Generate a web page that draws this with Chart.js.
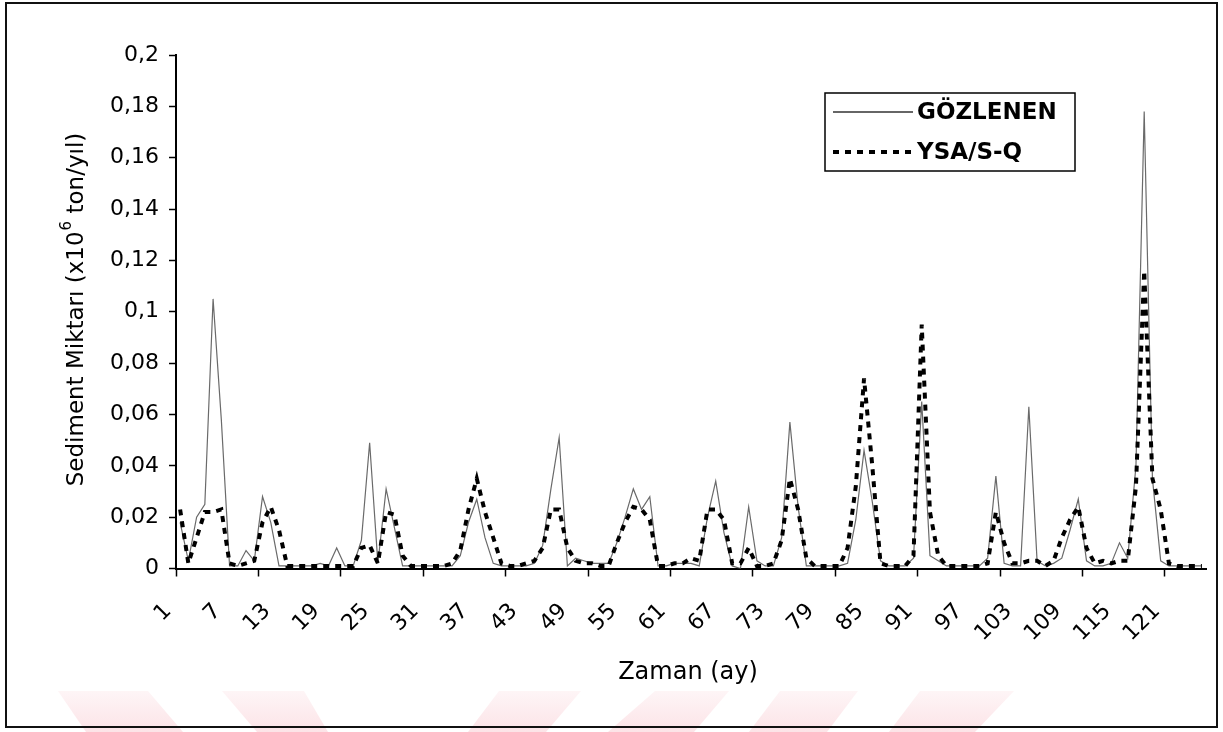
<!DOCTYPE html>
<html>
<head>
<meta charset="utf-8">
<script src="https://cdn.jsdelivr.net/npm/chart.js@4.4.0/dist/chart.umd.min.js"></script>
<style>
  html, body { margin: 0; padding: 0; background: #fff; }
  #wrap { width: 1223px; height: 732px; position: relative; }
</style>
</head>
<body>
<div id="wrap"><canvas id="sedimentChart"></canvas></div>
<script>
// Months 1..125
const months = Array.from({ length: 125 }, (_, i) => String(i + 1));

// Observed sediment (x10^6 ton/yil)
const observed = [
  0.018, 0.003, 0.020, 0.025, 0.105, 0.058, 0.001, 0.001, 0.007, 0.003,
  0.028, 0.018, 0.001, 0.001, 0.001, 0.001, 0.001, 0.002, 0.001, 0.008,
  0.001, 0.001, 0.011, 0.049, 0.002, 0.031, 0.016, 0.001, 0.001, 0.001,
  0.001, 0.001, 0.001, 0.001, 0.005, 0.018, 0.027, 0.012, 0.002, 0.001,
  0.001, 0.001, 0.001, 0.002, 0.009, 0.031, 0.051, 0.001, 0.004, 0.003,
  0.002, 0.002, 0.002, 0.010, 0.020, 0.031, 0.023, 0.028, 0.001, 0.001,
  0.002, 0.002, 0.002, 0.001, 0.020, 0.034, 0.014, 0.001, 0.000, 0.024,
  0.003, 0.001, 0.001, 0.012, 0.057, 0.024, 0.001, 0.001, 0.001, 0.001,
  0.001, 0.002, 0.019, 0.046, 0.026, 0.003, 0.001, 0.001, 0.001, 0.004,
  0.065, 0.005, 0.003, 0.001, 0.001, 0.001, 0.001, 0.001, 0.004, 0.036,
  0.002, 0.001, 0.001, 0.063, 0.003, 0.001, 0.002, 0.004, 0.015, 0.027,
  0.003, 0.001, 0.001, 0.002, 0.010, 0.004, 0.040, 0.178, 0.035, 0.003,
  0.001, 0.001, 0.001, 0.001, 0.001
];

// YSA model output (S-Q input)
const predicted = [
  0.023, 0.002, 0.012, 0.022, 0.022, 0.023, 0.002, 0.001, 0.002, 0.003,
  0.018, 0.024, 0.015, 0.001, 0.001, 0.001, 0.001, 0.001, 0.001, 0.001,
  0.001, 0.001, 0.008, 0.009, 0.002, 0.022, 0.021, 0.005, 0.001, 0.001,
  0.001, 0.001, 0.001, 0.002, 0.007, 0.023, 0.035, 0.022, 0.012, 0.002,
  0.001, 0.001, 0.002, 0.003, 0.008, 0.023, 0.023, 0.008, 0.003, 0.002,
  0.002, 0.001, 0.001, 0.010, 0.018, 0.024, 0.023, 0.019, 0.001, 0.001,
  0.002, 0.002, 0.004, 0.003, 0.023, 0.023, 0.019, 0.002, 0.002, 0.008,
  0.001, 0.001, 0.002, 0.011, 0.035, 0.023, 0.004, 0.001, 0.001, 0.001,
  0.001, 0.008, 0.032, 0.074, 0.040, 0.002, 0.001, 0.001, 0.001, 0.005,
  0.095, 0.022, 0.005, 0.001, 0.001, 0.001, 0.001, 0.001, 0.002, 0.022,
  0.010, 0.002, 0.002, 0.003, 0.003, 0.001, 0.003, 0.012, 0.019, 0.024,
  0.008, 0.002, 0.003, 0.002, 0.003, 0.003, 0.032, 0.116, 0.035, 0.023,
  0.002, 0.001, 0.001, 0.001, 0.001
];

const LABEL_STEP = 6;   // a month label every 6 months
const MARK_STEP = 10;   // a tick mark every 10 months
const FONT = '"DejaVu Sans", "Liberation Sans", sans-serif';

function commaNum(v) {
  const n = Math.round(v * 100) / 100;
  return String(n).replace('.', ',');
}

// frame, watermark bands, axis titles and the boxed legend
const decor = {
  id: 'decor',
  beforeDraw(chart) {
    const ctx = chart.ctx;
    ctx.save();
    ctx.fillStyle = '#fff';
    ctx.fillRect(0, 0, chart.width, chart.height);
    const bands = [
      [58, 148, 86, 183], [222, 304, 257, 328],
      [499, 581, 468, 546], [655, 729, 608, 694],
      [780, 858, 749, 827], [920, 1014, 889, 975]
    ];
    const g = ctx.createLinearGradient(0, 690, 0, 732);
    g.addColorStop(0, 'rgba(235,70,95,0.05)');
    g.addColorStop(1, 'rgba(235,70,95,0.15)');
    ctx.fillStyle = g;
    bands.forEach(b => {
      ctx.beginPath();
      ctx.moveTo(b[0], 691);
      ctx.lineTo(b[1], 691);
      ctx.lineTo(b[3], 732);
      ctx.lineTo(b[2], 732);
      ctx.closePath();
      ctx.fill();
    });
    ctx.restore();
  },
  afterDraw(chart) {
    const ctx = chart.ctx;
    ctx.save();

    // outer frame
    ctx.strokeStyle = '#111';
    ctx.lineWidth = 2;
    ctx.strokeRect(6, 3, 1211, 724);

    // x title
    ctx.fillStyle = '#000';
    ctx.font = '24px ' + FONT;
    ctx.textAlign = 'center';
    ctx.textBaseline = 'middle';
    ctx.fillText('Zaman (ay)', 688, 673);

    // y title with superscript exponent
    const p1 = 'Sediment Miktarı (x10', p2 = '6', p3 = ' ton/yıl)';
    ctx.translate(77, 310);
    ctx.rotate(-Math.PI / 2);
    ctx.textAlign = 'left';
    ctx.font = '23px ' + FONT;
    const w1 = ctx.measureText(p1).width, w3 = ctx.measureText(p3).width;
    ctx.font = '15px ' + FONT;
    const w2 = ctx.measureText(p2).width;
    let x = -(w1 + w2 + w3) / 2;
    ctx.font = '23px ' + FONT;
    ctx.fillText(p1, x, 0);
    x += w1;
    ctx.font = '15px ' + FONT;
    ctx.fillText(p2, x + 1, -10);
    x += w2 + 1;
    ctx.font = '23px ' + FONT;
    ctx.fillText(p3, x, 0);
    ctx.setTransform(1, 0, 0, 1, 0, 0);

    // legend box
    ctx.fillStyle = '#fff';
    ctx.fillRect(825, 93, 250, 78);
    ctx.strokeStyle = '#000';
    ctx.lineWidth = 1.5;
    ctx.strokeRect(825, 93, 250, 78);
    const rows = [112, 152];
    chart.data.datasets.forEach((ds, i) => {
      const y = rows[i];
      ctx.beginPath();
      ctx.strokeStyle = i === 0 ? '#333' : ds.borderColor;
      ctx.lineWidth = i === 0 ? 1.5 : ds.borderWidth;
      ctx.setLineDash(ds.borderDash || []);
      ctx.moveTo(833, y);
      ctx.lineTo(913, y);
      ctx.stroke();
      ctx.setLineDash([]);
      ctx.fillStyle = '#000';
      ctx.font = 'bold 23px ' + FONT;
      ctx.textAlign = 'left';
      ctx.textBaseline = 'middle';
      ctx.fillText(ds.label, 917, y + 1);
    });
    ctx.restore();
  }
};

new Chart(document.getElementById('sedimentChart'), {
  type: 'line',
  data: {
    labels: months,
    datasets: [
      {
        label: 'GÖZLENEN',
        data: observed,
        borderColor: '#6a6a6a',
        borderWidth: 1.2,
        pointRadius: 0,
        tension: 0,
        order: 1
      },
      {
        label: 'YSA/S-Q',
        data: predicted,
        borderColor: '#000',
        borderWidth: 4,
        borderDash: [6, 6],
        pointRadius: 0,
        tension: 0,
        order: 0
      }
    ]
  },
  options: {
    responsive: true,
    maintainAspectRatio: false,
    animation: false,
    devicePixelRatio: 1,
    layout: { padding: { top: 55, right: 17, left: 0, bottom: 0 } },
    plugins: {
      legend: { display: false },
      tooltip: { enabled: false }
    },
    scales: {
      x: {
        offset: true,
        grid: {
          offset: true,
          drawOnChartArea: false,
          tickLength: 8,
          tickWidth: 1.5,
          tickColor: c => (c.index % MARK_STEP === 0 ? '#000' : 'rgba(0,0,0,0)')
        },
        border: { color: '#000', width: 2 },
        ticks: {
          autoSkip: false,
          minRotation: 45,
          maxRotation: 45,
          padding: 22,
          labelOffset: -12,
          color: '#000',
          font: { family: FONT, size: 22 },
          callback: function (v, i) {
            return i % LABEL_STEP === 0 ? this.getLabelForValue(v) : '';
          }
        },
        afterFit: s => {
          s.height = 163.5;
          s.paddingLeft = 0;
          s.paddingRight = 0;
        }
      },
      y: {
        min: 0,
        max: 0.2,
        grid: { drawOnChartArea: false, tickLength: 7, tickWidth: 1.5, tickColor: '#000' },
        border: { color: '#000', width: 2 },
        ticks: {
          stepSize: 0.02,
          padding: 10,
          color: '#000',
          font: { family: FONT, size: 22 },
          callback: v => commaNum(v)
        },
        afterFit: s => { s.width = 176; }
      }
    }
  },
  plugins: [decor]
});
</script>
</body>
</html>
